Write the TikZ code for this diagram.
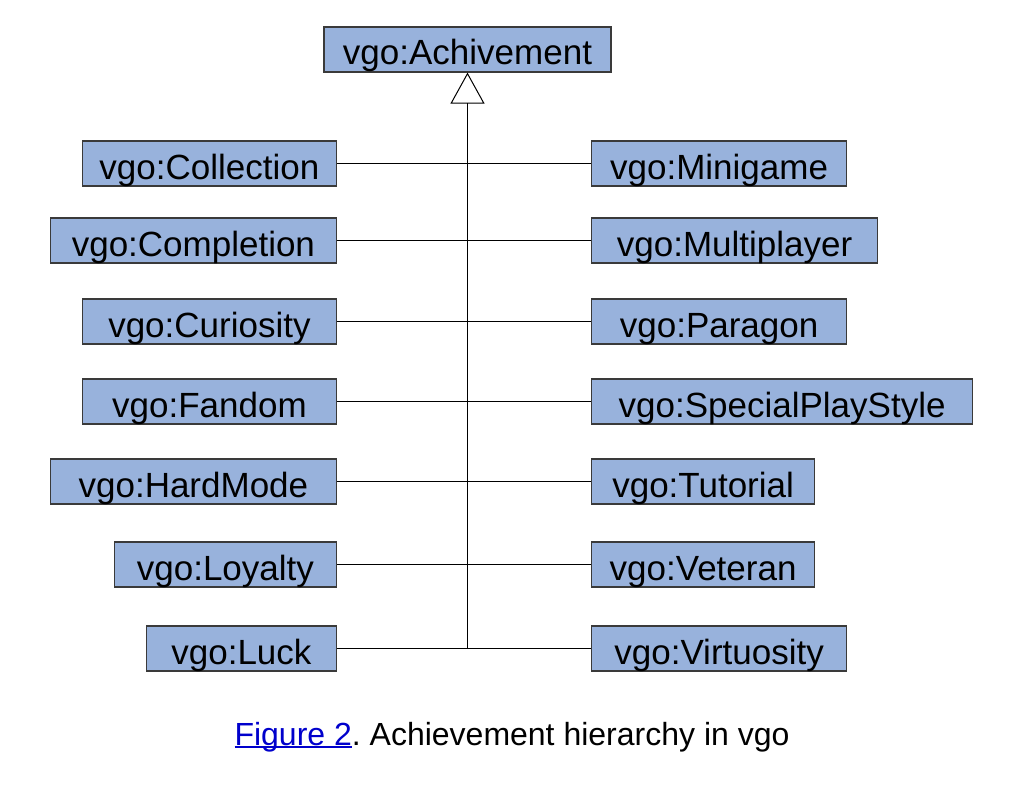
\documentclass[tikz,border=0pt]{standalone}
\usepackage{fontspec}
\setmainfont{Liberation Sans}
\usetikzlibrary{arrows.meta}
\definecolor{classfill}{HTML}{98B2DC}
\definecolor{classline}{HTML}{3A3A3A}
\definecolor{linkblue}{HTML}{0000CC}
% underline drawn in the current colour, close under the baseline
\newcommand\linkline[1]{\setbox0\hbox{#1}\rlap{\rule[-3pt]{\wd0}{1.6pt}}\box0}
\begin{document}
\begin{tikzpicture}[x=1pt,y=-1pt,
  classbox/.style={draw=classline, line width=1.2pt, fill=classfill, inner sep=0pt,
    minimum height=45pt, font=\fontsize{35}{42}\selectfont,
    text height=31pt, text depth=0pt},
  link/.style={draw=black, line width=1pt}]
\useasboundingbox (0,0) rectangle (1020,800);

% superclass
\node[classbox, minimum width=287pt] (ach) at (467.5,49.5) {vgo:Achivement};

% left column (right edges aligned at x=337)
\node[classbox, minimum width=254pt, anchor=east] (collection) at (337,163.5) {vgo:Collection};
\node[classbox, minimum width=286pt, anchor=east] (completion) at (337,240.5) {vgo:Completion};
\node[classbox, minimum width=254pt, anchor=east] (curiosity)  at (337,321.5) {vgo:Curiosity};
\node[classbox, minimum width=254pt, anchor=east] (fandom)     at (337,401.5) {vgo:Fandom};
\node[classbox, minimum width=286pt, anchor=east] (hardmode)   at (337,481.5) {vgo:HardMode};
\node[classbox, minimum width=222pt, anchor=east] (loyalty)    at (337,564.5) {vgo:Loyalty};
\node[classbox, minimum width=190pt, anchor=east] (luck)       at (337,648.5) {vgo:Luck};

% right column (left edges aligned at x=591)
\node[classbox, minimum width=255pt, anchor=west] (minigame)    at (591,163.5) {vgo:Minigame};
\node[classbox, minimum width=286pt, anchor=west] (multiplayer) at (591,240.5) {vgo:Multiplayer};
\node[classbox, minimum width=255pt, anchor=west] (paragon)     at (591,321.5) {vgo:Paragon};
\node[classbox, minimum width=381pt, anchor=west] (special)     at (591,401.5) {vgo:SpecialPlayStyle};
\node[classbox, minimum width=223pt, anchor=west] (tutorial)    at (591,481.5) {vgo:Tutorial};
\node[classbox, minimum width=223pt, anchor=west] (veteran)     at (591,564.5) {vgo:Veteran};
\node[classbox, minimum width=255pt, anchor=west] (virtuosity)  at (591,648.5) {vgo:Virtuosity};

% horizontal connectors
\draw[link] (collection.east) -- (minigame.west);
\draw[link] (completion.east) -- (multiplayer.west);
\draw[link] (curiosity.east) -- (paragon.west);
\draw[link] (fandom.east) -- (special.west);
\draw[link] (hardmode.east) -- (tutorial.west);
\draw[link] (loyalty.east) -- (veteran.west);
\draw[link] (luck.east) -- (virtuosity.west);

% generalisation trunk with hollow triangle
\coordinate (trunk) at (467.5,648.5);
\draw[link, -{Triangle[open, length=31pt, width=34pt, line width=1pt]}] (trunk) -- (ach.south);

% caption
\node[font=\fontsize{32}{38}\selectfont\frenchspacing, anchor=base] (caption) at (512,745)
  {{\color{linkblue}\linkline{Figure 2}}. Achievement hierarchy in vgo};
\end{tikzpicture}
\end{document}
